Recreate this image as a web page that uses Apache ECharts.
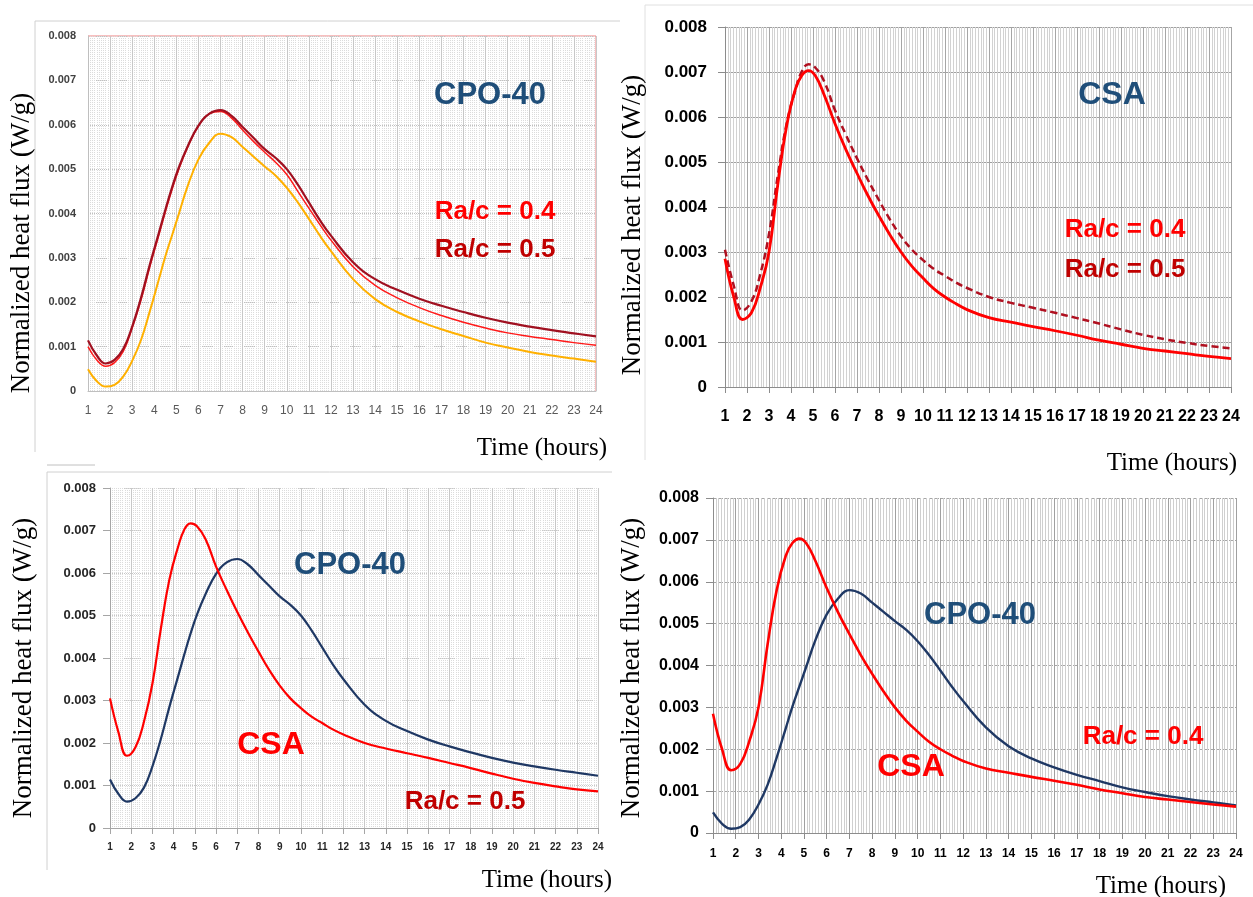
<!DOCTYPE html>
<html>
<head>
<meta charset="utf-8">
<script src="https://cdn.jsdelivr.net/npm/echarts@6/dist/echarts.min.js"></script>
<style>
html,body{margin:0;padding:0;background:#fff;}
#main{width:1253px;height:897px;}
</style>
</head>
<body>
<div id="main"></div>
<script>
/******************************** data (W/g) ********************************/
var hours = [1, 1.4, 1.8, 2.2, 2.6, 3, 3.4, 3.8, 4.2, 4.5, 4.8, 5.1, 5.5, 6, 6.5, 7, 7.5, 8, 8.5, 9, 9.5, 10, 10.5, 11, 11.5,
             12, 13, 14, 15, 16, 17, 18, 19, 20, 21, 22, 23, 24];

// CPO-40, Ra/c = 0.5
var cpo05 = [0.00114, 0.00080, 0.00062, 0.00070, 0.00095, 0.00145, 0.00210, 0.00285, 0.00355, 0.00408, 0.00458, 0.00502,
             0.00550, 0.00598, 0.00625, 0.00633, 0.00620, 0.00595, 0.00570, 0.00545, 0.00525, 0.00500, 0.00465, 0.00425, 0.00385,
             0.00350, 0.00290, 0.00252, 0.00228, 0.00208, 0.00192, 0.00178, 0.00165, 0.00154, 0.00145, 0.00137, 0.00130, 0.00123];
// CPO-40, intermediate curve (thin red, top-left plot)
var cpoMid = [0.00100, 0.00070, 0.00056, 0.00064, 0.00090, 0.00142, 0.00205, 0.00280, 0.00350, 0.00403, 0.00453, 0.00498,
              0.00548, 0.00597, 0.00625, 0.00630, 0.00615, 0.00588, 0.00562, 0.00538, 0.00515, 0.00488, 0.00450, 0.00412, 0.00375,
              0.00340, 0.00280, 0.00238, 0.00210, 0.00188, 0.00170, 0.00155, 0.00142, 0.00131, 0.00123, 0.00116, 0.00109, 0.00103];
// CPO-40, Ra/c = 0.4
var cpo04 = [0.00049, 0.00022, 0.00010, 0.00014, 0.00033, 0.00068, 0.00115, 0.00180, 0.00250, 0.00303, 0.00350, 0.00397,
             0.00460, 0.00522, 0.00560, 0.00580, 0.00572, 0.00550, 0.00528, 0.00506, 0.00485, 0.00458, 0.00425, 0.00388, 0.00350,
             0.00315, 0.00252, 0.00207, 0.00178, 0.00157, 0.00139, 0.00124, 0.00109, 0.00098, 0.00088, 0.00080, 0.00073, 0.00066];
// CSA, Ra/c = 0.4
var csa04 = [0.00285, 0.00200, 0.00150, 0.00165, 0.00220, 0.00300, 0.00450, 0.00580, 0.00662, 0.00693, 0.00703, 0.00692,
             0.00650, 0.00585, 0.00527, 0.00475, 0.00425, 0.00380, 0.00338, 0.00300, 0.00268, 0.00242, 0.00218, 0.00200, 0.00185,
             0.00172, 0.00154, 0.00144, 0.00134, 0.00125, 0.00115, 0.00104, 0.00095, 0.00086, 0.00080, 0.00074, 0.00068, 0.00063];
// CSA, Ra/c = 0.5
var csa05 = [0.00305, 0.00225, 0.00170, 0.00190, 0.00250, 0.00340, 0.00470, 0.00585, 0.00660, 0.00702, 0.00717, 0.00710,
             0.00680, 0.00615, 0.00560, 0.00508, 0.00460, 0.00415, 0.00372, 0.00335, 0.00305, 0.00282, 0.00262, 0.00247, 0.00232,
             0.00220, 0.00200, 0.00187, 0.00176, 0.00165, 0.00153, 0.00141, 0.00128, 0.00116, 0.00106, 0.00098, 0.00091, 0.00086];

var yTicks = ['0', '0.001', '0.002', '0.003', '0.004', '0.005', '0.006', '0.007', '0.008'];

var BLUE_TXT = '#1f4e79';
var NAVY = '#1f3864';
var RED = '#ff0000';
var DARKRED = '#c00000';

function pts(arr){
    return hours.map(function(h, i){ return [h, arr[i]]; });
}
function yLabel(v){
    return yTicks[Math.round(v * 1000)];
}

/******************************** axes ********************************/
function xAxis(idx, o){
    return {
        type: 'value', gridIndex: idx, min: 1, max: 24, interval: 1,
        axisLine: {show: true, lineStyle: {color: o.axisColor, width: 1}},
        axisTick: {show: o.tick, length: 6, lineStyle: {color: o.axisColor}},
        axisLabel: {margin: o.margin, color: o.labelColor, fontSize: o.fontSize, fontWeight: o.fontWeight,
                    fontFamily: '"Liberation Sans", Arial, sans-serif'},
        splitLine: {show: true, lineStyle: {color: o.major, width: 1}},
        minorTick: {show: false, splitNumber: o.minorN},
        minorSplitLine: {show: true, lineStyle: {color: o.minor, type: o.minorType, width: 1}}
    };
}
function yAxis(idx, o){
    return {
        type: 'value', gridIndex: idx, min: 0, max: 0.008, interval: 0.001,
        axisLine: {show: true, lineStyle: {color: o.axisColor}},
        axisTick: {show: o.tick, length: 7, lineStyle: {color: o.axisColor}},
        axisLabel: {margin: o.margin, color: o.labelColor, fontSize: o.fontSize, fontWeight: 'bold',
                    fontFamily: '"Liberation Sans", Arial, sans-serif', formatter: yLabel},
        splitLine: {show: true, lineStyle: {color: o.hColor, type: o.hType, width: 1}}
    };
}

function line(idx, arr, color, width, dashed){
    return {
        type: 'line', xAxisIndex: idx, yAxisIndex: idx, data: pts(arr),
        smooth: 0.45, showSymbol: false, animation: false,
        lineStyle: {color: color, width: width, type: dashed ? [7, 4] : 'solid'}
    };
}

/******************************** text ********************************/
var SERIF = '"Liberation Serif", "Times New Roman", serif';
function sans(s){ return 'bold ' + s + 'px "Liberation Sans", Arial, sans-serif'; }

function txt(x, y, text, font, color, align, rot){
    return {
        type: 'text', x: x, y: y, rotation: rot || 0, silent: true, z: 100,
        style: {text: text, font: font, fill: color, stroke: null, lineWidth: 0,
                align: align || 'center', verticalAlign: 'middle'}
    };
}
function seg(x1, y1, x2, y2, color){
    return {type: 'line', silent: true, shape: {x1: x1, y1: y1, x2: x2, y2: y2},
            style: {stroke: color, lineWidth: 1}};
}

var yTitle = 'Normalized heat flux (W/g)';
var xTitle = 'Time (hours)';

var graphics = [
    // panel frames
    seg(35, 21, 620, 21, '#d0d0d0'), seg(35, 21, 35, 452, '#d0d0d0'),
    seg(645, 5, 1253, 5, '#e0e0e0'), seg(645, 5, 645, 460, '#e0e0e0'),
    seg(47, 472, 612, 472, '#d0d0d0'), seg(47, 472, 47, 870, '#d0d0d0'),
    seg(47, 465, 95, 465, '#c0c0c0'),
    // red plot border, top-left
    seg(88, 36, 596, 36, '#f08080'), seg(596, 36, 596, 391, '#f08080'),

    // axis titles
    txt(22, 243, yTitle, '27px ' + SERIF, '#000', 'center', Math.PI / 2),
    txt(633, 225, yTitle, '27px ' + SERIF, '#000', 'center', Math.PI / 2),
    txt(24, 668, yTitle, '27px ' + SERIF, '#000', 'center', Math.PI / 2),
    txt(632, 668, yTitle, '27px ' + SERIF, '#000', 'center', Math.PI / 2),
    txt(607, 448, xTitle, '25px ' + SERIF, '#000', 'right'),
    txt(1237, 463, xTitle, '25px ' + SERIF, '#000', 'right'),
    txt(612, 880, xTitle, '25px ' + SERIF, '#000', 'right'),
    txt(1226, 886, xTitle, '25px ' + SERIF, '#000', 'right'),

    // labels in the plots
    txt(490, 95, 'CPO‑40', sans(31), BLUE_TXT),
    txt(495, 212, 'Ra/c = 0.4', sans(26), RED),
    txt(495, 250, 'Ra/c = 0.5', sans(26), DARKRED),

    txt(1112, 95, 'CSA', sans(32), BLUE_TXT),
    txt(1125, 230, 'Ra/c = 0.4', sans(26), RED),
    txt(1125, 270, 'Ra/c = 0.5', sans(26), DARKRED),

    txt(350, 565, 'CPO‑40', sans(31), BLUE_TXT),
    txt(271, 745, 'CSA', sans(32), RED),
    txt(465, 802, 'Ra/c = 0.5', sans(26), DARKRED),

    txt(980, 615, 'CPO‑40', sans(31), BLUE_TXT),
    txt(911, 767, 'CSA', sans(32), RED),
    txt(1143, 737, 'Ra/c = 0.4', sans(26), RED)
];

/******************************** chart ********************************/
var chart = echarts.init(document.getElementById('main'));
var option = {
    backgroundColor: '#fff',
    animation: false,
    grid: [
        {left: 88, top: 36, width: 508, height: 355},
        {left: 725, top: 27, width: 506, height: 360},
        {left: 110, top: 488, width: 488, height: 340},
        {left: 713, top: 498, width: 523, height: 335}
    ],
    xAxis: [
        xAxis(0, {axisColor: '#bfbfbf', tick: false, margin: 14, labelColor: '#595959', fontSize: 12, fontWeight: 'normal',
                  major: '#c8c8c8', minor: '#dcdcdc', minorType: 'dotted', minorN: 10}),
        xAxis(1, {axisColor: '#8c8c8c', tick: true, margin: 22, labelColor: '#000', fontSize: 16, fontWeight: 'bold',
                  major: '#a6a6a6', minor: '#d2d2d2', minorType: 'solid', minorN: 8}),
        xAxis(2, {axisColor: '#a6a6a6', tick: true, margin: 14, labelColor: '#262626', fontSize: 10, fontWeight: 'bold',
                  major: '#c8c8c8', minor: '#dcdcdc', minorType: 'dotted', minorN: 10}),
        xAxis(3, {axisColor: '#8c8c8c', tick: true, margin: 15, labelColor: '#000', fontSize: 12, fontWeight: 'bold',
                  major: '#a0a0a0', minor: '#cfcfcf', minorType: 'solid', minorN: 8})
    ],
    yAxis: [
        yAxis(0, {axisColor: '#bfbfbf', tick: false, margin: 12, labelColor: '#404040', fontSize: 11,
                  hColor: '#c0c0c0', hType: 'dotted'}),
        yAxis(1, {axisColor: '#8c8c8c', tick: true, margin: 18, labelColor: '#000', fontSize: 17,
                  hColor: '#a0a0a0', hType: 'solid'}),
        yAxis(2, {axisColor: '#a6a6a6', tick: true, margin: 14, labelColor: '#262626', fontSize: 13,
                  hColor: '#c8c8c8', hType: 'dotted'}),
        yAxis(3, {axisColor: '#8c8c8c', tick: true, margin: 14, labelColor: '#000', fontSize: 16,
                  hColor: '#a6a6a6', hType: 'dashed'})
    ],
    series: [
        line(0, cpo04, '#ffb000', 2),
        line(0, cpoMid, '#ff1a1a', 1.5),
        line(0, cpo05, '#a01020', 2.2),

        line(1, csa05, '#b01020', 2.5, true),
        line(1, csa04, RED, 2.8),

        line(2, cpo05, NAVY, 2.2),
        line(2, csa05, RED, 2.2),

        line(3, cpo04, NAVY, 2.4),
        line(3, csa04, RED, 2.6)
    ],
    graphic: graphics
};
chart.setOption(option);
</script>
</body>
</html>
